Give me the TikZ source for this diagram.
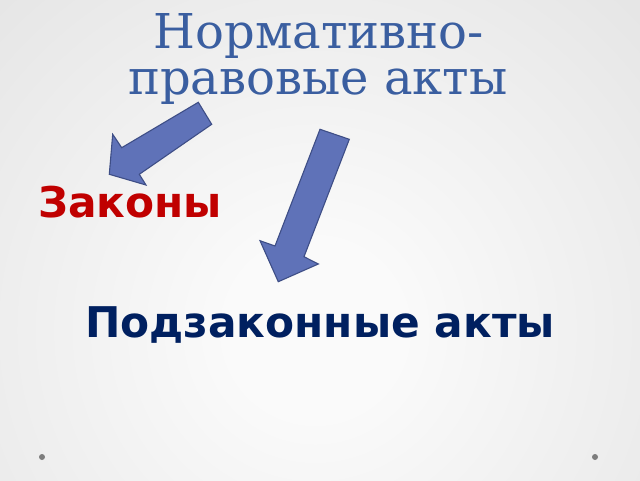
\documentclass[tikz,border=0pt]{standalone}
\usepackage{fontspec}
\setmainfont{DejaVu Serif}
\newfontfamily\boldsans{DejaVu Sans Bold}
\definecolor{titleblue}{RGB}{58,94,160}
\definecolor{lawred}{RGB}{192,0,0}
\definecolor{navy}{RGB}{0,32,96}
\definecolor{arrowfill}{RGB}{95,114,184}
\definecolor{arrowline}{RGB}{62,78,134}
\definecolor{bgcenter}{RGB}{250,250,250}
\definecolor{bgedge}{RGB}{196,196,196}
\definecolor{dotgray}{RGB}{125,125,125}
\pgfdeclareradialshading{bgshade}{\pgfpoint{0bp}{0bp}}{color(0bp)=(bgcenter); color(4bp)=(bgcenter); color(50bp)=(bgedge)}
\tikzset{
  titletext/.style={text=titleblue, font=\fontsize{48}{48}\selectfont, inner sep=0pt},
  bigbold/.style={font=\boldsans\fontsize{42.3}{42.3}\selectfont, inner sep=0pt},
  blockarrow/.style={fill=arrowfill, draw=arrowline, line width=1.1pt, line join=miter},
  corner dot/.style={fill=dotgray}
}
\begin{document}
\begin{tikzpicture}[x=1pt,y=-1pt]
\useasboundingbox (0,0) rectangle (640,480);
\begin{scope}
\clip (0,0) rectangle (640,480);
\shade[shading=bgshade] (315,330) circle (540);
\end{scope}
% title
\node[titletext, anchor=base] (t1) at (319,48) {Нормативно-};
\node[titletext, anchor=base] (t2) at (318,94) {правовые акты};
% labels
\node[bigbold, text=lawred, anchor=base west] (laws) at (38,217) {Законы};
\node[bigbold, text=navy, anchor=base] (bylaws) at (320,337) {Подзаконные акты};
% arrows
\draw[blockarrow] (198.3,102.3) -- (211.7,124.3) -- (139.3,174.3) -- (146,185)
  -- (109.3,174.3) -- (112.7,134.3) -- (121.7,147.7) -- cycle;
\draw[blockarrow] (320,129.3) -- (349.3,139.3) -- (304,256.7) -- (318.3,264)
  -- (278.3,281.7) -- (260,240.7) -- (275,246) -- cycle;
% dots
\fill[corner dot] (42,457) circle (3);
\fill[corner dot] (595,457) circle (3);
\end{tikzpicture}
\end{document}
